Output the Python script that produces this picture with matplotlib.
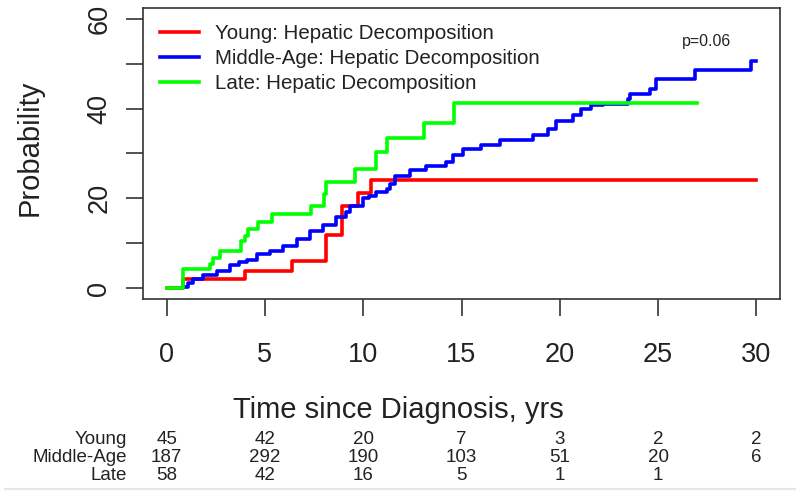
import matplotlib
matplotlib.use("Agg")
import matplotlib.pyplot as plt
import matplotlib.transforms as mtransforms
from matplotlib.lines import Line2D

plt.rcParams['font.family'] = ['Liberation Sans', 'DejaVu Sans']

# cumulative incidence (years, percent)
young_t = [0, 0.85, 4.0, 6.4, 8.1, 8.9, 9.75, 10.4, 30.0]
young_p = [0, 2.0, 3.9, 6.0, 11.9, 18.2, 21.1, 24.2, 24.2]

mid_t = [0.85, 1.1, 1.35, 1.86, 2.54, 3.22, 3.7, 4.07, 4.58, 5.25, 5.93, 6.61,
         7.29, 7.96, 8.64, 9.15, 9.32, 10.0, 10.3, 10.67, 11.2, 11.35, 11.6,
         12.4, 13.2, 14.2, 14.57, 15.08, 16.0, 16.95, 18.64, 19.4, 19.82,
         20.67, 21.1, 21.6, 22.2, 23.47, 23.55, 24.57, 24.9, 26.9, 29.74, 30.0]
mid_p = [0.3, 1.2, 2.0, 3.0, 3.9, 5.2, 5.8, 6.25, 7.6, 8.3, 9.4, 10.9,
         12.8, 14.1, 15.8, 16.9, 18.2, 20.2, 20.6, 21.5, 22.1, 23.2, 25.1,
         26.3, 27.3, 28.0, 29.6, 31.0, 31.9, 33.1, 34.2, 35.5, 37.3,
         38.6, 40.0, 40.7, 41.0, 42.2, 43.3, 44.3, 46.6, 48.7, 50.5, 50.5]

late_t = [0, 0.85, 2.2, 2.37, 2.71, 3.81, 3.98, 4.15, 4.66, 5.34, 7.35, 8.03,
          8.13, 9.57, 10.67, 11.2, 13.07, 14.62, 27.0]
late_p = [0, 4.2, 5.4, 6.8, 8.3, 10.6, 11.7, 13.2, 14.7, 16.5, 18.4, 21.0,
          23.6, 26.6, 30.3, 33.4, 36.8, 41.3, 41.3]

labels = ["Young: Hepatic Decomposition", "Middle-Age: Hepatic Decomposition",
          "Late: Hepatic Decomposition"]
colors = ["#ff0000", "#0000ff", "#00ff00"]

# numbers at risk
risk_times = [0, 5, 10, 15, 20, 25, 30]
risk_groups = ["Young", "Middle-Age", "Late"]
risk_young = ["45", "42", "20", "7", "3", "2", "2"]
risk_mid = ["187", "292", "190", "103", "51", "20", "6"]
risk_late = ["58", "42", "16", "5", "1", "1", ""]

txt = "#222222"
fig = plt.figure(figsize=(8, 4.95), dpi=100)
ax = fig.add_axes([0.17875, 0.396, 0.79625, 0.5878])

ax.step(young_t, young_p, where='post', color=colors[0], lw=2.6)
ax.step(mid_t, mid_p, where='post', color=colors[1], lw=2.6)
ax.step(late_t, late_p, where='post', color=colors[2], lw=2.6)

ax.set_xlim(-1.2, 31.2)
ax.set_ylim(-2.4, 62.4)
ax.set_xticks(range(0, 31, 5))
ax.set_yticks(range(0, 61, 10))
ax.set_yticklabels(["0", "", "20", "", "40", "", "60"], rotation=90, va='center')
ax.tick_params(direction='out', length=12, width=1.2, color='#333333',
               labelsize=19.5, labelcolor=txt)
ax.tick_params(axis='x', pad=19)
ax.tick_params(axis='y', pad=10)
for s in ax.spines.values():
    s.set_color('#333333')
    s.set_linewidth(1.2)

handles = [Line2D([], [], color=c, lw=2.6) for c in colors]
ax.legend(handles, labels, loc='upper left', bbox_to_anchor=(-0.003, 1.008),
          frameon=False, fontsize=14.8, handlelength=1.9, handletextpad=0.8,
          labelspacing=0.28, labelcolor=txt, borderaxespad=0.5)

ax.text(0.885, 0.885, "p=0.06", transform=ax.transAxes, fontsize=11.5,
        color=txt, ha='center', va='center')

fig.text(30 / 800, 1 - 148 / 495, "Probability", rotation=90, fontsize=21,
         color=txt, ha='center', va='center')
fig.text(398 / 800, 1 - 410 / 495, "Time since Diagnosis, yrs", fontsize=21,
         color=txt, ha='center', va='center')

trans = mtransforms.blended_transform_factory(ax.transData, fig.transFigure)
rows_y = [440, 458, 476]
for name, vals, yy in zip(risk_groups, [risk_young, risk_mid, risk_late], rows_y):
    fig.text(127 / 800, 1 - yy / 495, name, fontsize=13.5, color=txt,
             ha='right', va='center')
    for t, v in zip(risk_times, vals):
        ax.text(t, 1 - yy / 495, v, transform=trans, fontsize=13.5, color=txt,
                ha='center', va='center', clip_on=False)

fig.add_artist(Line2D([5 / 800, 795 / 800], [1 - 489 / 495, 1 - 489 / 495],
                      color='#e6e6e6', lw=1.5))

fig.savefig("out.png", dpi=100)
